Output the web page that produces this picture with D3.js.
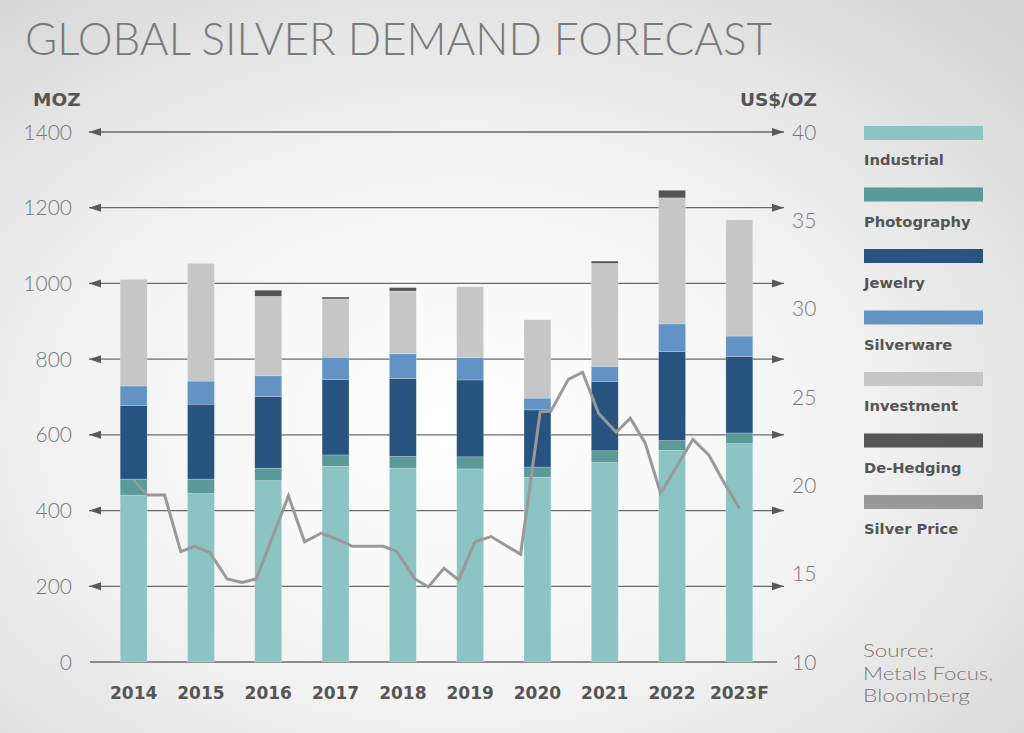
<!DOCTYPE html>
<html><head><meta charset="utf-8">
<script src="https://cdn.jsdelivr.net/npm/d3@7"></script>
<style>html,body{margin:0;padding:0;overflow:hidden;background:#eee}</style>
</head><body><svg id="c" width="1024" height="733"></svg>
<script>
const years = ["2014","2015","2016","2017","2018","2019","2020","2021","2022","2023F"];
const industrial  = [441,445,479,517,512,510,488,527,559,577];
const photography = [42,38,33,30,31,32,27,31,26,28];
const jewelry     = [194,198,189,199,206,203,151,183,235,202];
const silverware  = [52,61,55,59,65,59,31,40,73,54];
const investment  = [282,311,210,154,166,187,207,272,333,307];
const deHedging   = [0,0,16,5,9,0,0,6,20,0];
const seriesNames = ["Industrial","Photography","Jewelry","Silverware","Investment","De-Hedging"];
const seriesColors = ["#8cc4c3","#5a9a99","#27537f","#6393c4","#c6c6c6","#555555"];
const priceTime  = [2014.00,2014.20,2014.46,2014.70,2014.91,2015.13,2015.39,2015.61,2015.82,2016.30,2016.54,2016.79,2017.02,2017.25,2017.71,2017.91,2018.18,2018.38,2018.61,2018.83,2019.07,2019.31,2019.75,2020.04,2020.20,2020.46,2020.67,2020.91,2021.17,2021.38,2021.60,2021.83,2022.31,2022.55,2022.75,2023.00];
const priceValue = [20.3,19.45,19.45,16.25,16.55,16.2,14.7,14.5,14.7,19.4,16.8,17.3,16.95,16.55,16.55,16.25,14.7,14.25,15.3,14.65,16.8,17.1,16.1,24.15,24.2,26.0,26.4,24.07,23.0,23.8,22.4,19.55,22.6,21.7,20.3,18.7];
const leftTicks = [0,200,400,600,800,1000,1200,1400];
const rightTicks = [10,15,20,25,30,35,40];
const sourceLines = ["Source:","Metals Focus,","Bloomberg"];

const svg = d3.select("#c");
const defs = svg.append("defs");
const rg = defs.append("radialGradient").attr("id","bg").attr("cx","45%").attr("cy","58%").attr("r","75%");
rg.append("stop").attr("offset","0%").attr("stop-color","#ffffff");
rg.append("stop").attr("offset","50%").attr("stop-color","#f3f3f3");
rg.append("stop").attr("offset","100%").attr("stop-color","#d6d6d6");
svg.append("rect").attr("width",1024).attr("height",733).attr("fill","url(#bg)");

const x = d3.scaleBand().domain(years).range([100,773]).paddingInner(0.6).paddingOuter(0.3);
const y = d3.scaleLinear().domain([0,1400]).range([662,132]);
const yR = d3.scaleLinear().domain([10,40]).range([662,132]);
const bw = x.bandwidth();
const xt = d3.scaleLinear().domain([2014,2023]).range([x("2014")+bw/2, x("2023F")+bw/2]);

// title
svg.append("text").attr("x",25).attr("y",55).text("GLOBAL SILVER DEMAND FORECAST")
  .attr("font-family","Lato, 'Open Sans', sans-serif").attr("font-weight",300)
  .attr("font-size",46).attr("fill","#7a7a7a")
  .attr("textLength",747).attr("lengthAdjust","spacingAndGlyphs");

// axis titles
svg.append("text").attr("x",33).attr("y",106).text("MOZ")
  .attr("font-family","'DejaVu Sans', sans-serif").attr("font-weight",700).attr("font-size",18.5).attr("fill","#555");
svg.append("text").attr("x",817).attr("y",106).attr("text-anchor","end").text("US$/OZ")
  .attr("font-family","'DejaVu Sans', sans-serif").attr("font-weight",700).attr("font-size",18.5).attr("fill","#555");

// grid lines
const grid = svg.append("g");
const xL = 89, xR = 784;
leftTicks.forEach(t => {
  const yy = y(t);
  grid.append("line").attr("x1", t===0?90:xL).attr("x2", t===0?777:xR)
    .attr("y1",yy).attr("y2",yy).attr("stroke","#6a6a6a").attr("stroke-width",1.3);
  if (t!==0) {
    grid.append("path").attr("d",`M${xL},${yy}L${xL+12},${yy-4}L${xL+12},${yy+4}Z`).attr("fill","#5a5a5a");
    grid.append("path").attr("d",`M${xR},${yy}L${xR-12},${yy-4}L${xR-12},${yy+4}Z`).attr("fill","#5a5a5a");
  }
});

// left axis labels
svg.append("g").selectAll("text").data(leftTicks).join("text")
  .attr("x",72).attr("y",d=>y(d)).attr("dy","0.36em").attr("text-anchor","end")
  .text(d=>d).attr("font-family","Lato, 'Open Sans', sans-serif").attr("font-weight",300)
  .attr("font-size",21).attr("fill","#777");
// right axis labels
svg.append("g").selectAll("text").data(rightTicks).join("text")
  .attr("x",792).attr("y",d=>yR(d)).attr("dy","0.36em").attr("text-anchor","start")
  .text(d=>d).attr("font-family","Lato, 'Open Sans', sans-serif").attr("font-weight",300)
  .attr("font-size",21).attr("fill","#777");

// stacked bars
const table = years.map((yr,i)=>({year:yr, Industrial:industrial[i], Photography:photography[i], Jewelry:jewelry[i], Silverware:silverware[i], Investment:investment[i], "De-Hedging":deHedging[i]}));
const stack = d3.stack().keys(seriesNames)(table);
const bars = svg.append("g");
stack.forEach((layer,li)=>{
  bars.append("g").attr("fill",seriesColors[li]).selectAll("rect").data(layer.filter(d=>d[1]-d[0]>0)).join("rect")
    .attr("x",d=>x(d.data.year)).attr("width",bw)
    .attr("y",d=>y(d[1])).attr("height",d=>y(d[0])-y(d[1]))
    .attr("stroke","rgba(255,255,255,0.35)").attr("stroke-width",0.6);
});

// silver price line
const pts = priceTime.map((t,i)=>[t,priceValue[i]]);
svg.append("path").datum(pts)
  .attr("d", d3.line().x(d=>xt(d[0])).y(d=>yR(d[1])))
  .attr("fill","none").attr("stroke","#999").attr("stroke-width",3).attr("stroke-linejoin","miter");

// x labels
svg.append("g").selectAll("text").data(years).join("text")
  .attr("x",d=>x(d)+bw/2).attr("y",699).attr("text-anchor","middle").text(d=>d)
  .attr("font-family","'DejaVu Sans', sans-serif").attr("font-weight",700).attr("font-size",17).attr("fill","#555");

// legend
const legNames = seriesNames.concat(["Silver Price"]);
const legColors = seriesColors.concat(["#999999"]);
const leg = svg.append("g");
legNames.forEach((n,i)=>{
  const y0 = 126 + i*61.5;
  leg.append("rect").attr("x",864).attr("y",y0).attr("width",119).attr("height",14).attr("fill",legColors[i]);
  leg.append("text").attr("x",864).attr("y",y0+39).text(n)
    .attr("font-family","'DejaVu Sans', sans-serif").attr("font-weight",700).attr("font-size",14.7).attr("fill","#555");
});

// source
const srcWidths = [71,130,107];
sourceLines.forEach((s,i)=>{
  svg.append("text").attr("x",863).attr("y",657+i*22.5).text(s)
    .attr("font-family","Lato, 'Open Sans', sans-serif").attr("font-weight",300).attr("font-size",18.5).attr("fill","#777")
    .attr("textLength",srcWidths[i]).attr("lengthAdjust","spacingAndGlyphs");
});
</script></body></html>
